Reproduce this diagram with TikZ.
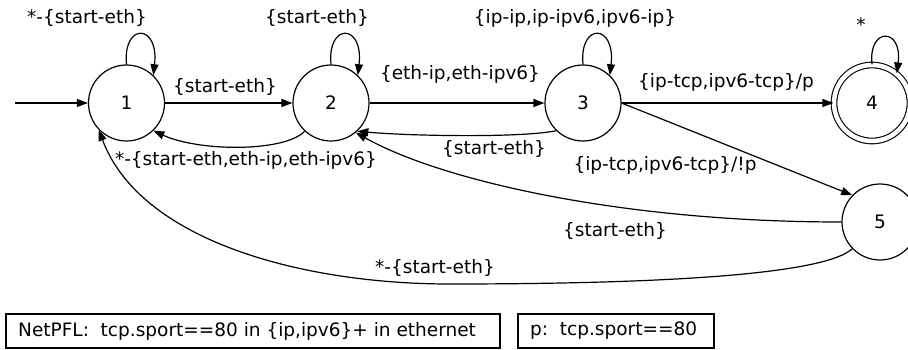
\documentclass[tikz,border=0pt]{standalone}
\usepackage{fontspec}
\setmainfont{DejaVu Sans}
\usetikzlibrary{arrows.meta}
\begin{document}
\begin{tikzpicture}[x=1pt,y=-1pt,
  every node/.style={font=\fontsize{18.5}{22}\selectfont},
  state/.style={draw,circle,line width=1.2pt,minimum size=76pt,inner sep=0pt},
  final/.style={state,double,double distance=4.5pt,line width=1.1pt},
  edge/.style={line width=1.2pt,-{Triangle[length=11pt,width=8pt]}},
  lab/.style={inner sep=0pt},
  infobox/.style={draw,line width=1.8pt,minimum height=34pt,inner sep=0pt,anchor=north west}]
\useasboundingbox (0,0) rectangle (908,350);
\node[state] (n1) at (126.5,103) {1};
\node[state] (n2) at (331,103) {2};
\node[state] (n3) at (583,103) {3};
\node[final] (n4) at (872,103) {4};
\node[state] (n5) at (880,222) {5};
\coordinate (start) at (15,103);
\draw[edge] (start) -- (n1);
% loops
\draw[edge] (n1.90) .. controls +(-4,-42) and +(6,-52) .. (n1.46);
\draw[edge] (n2.90) .. controls +(-4,-42) and +(6,-52) .. (n2.46);
\draw[edge] (n3.90) .. controls +(-4,-42) and +(6,-52) .. (n3.46);
\draw[edge] (n4.90) .. controls +(-4,-38) and +(6,-46) .. (n4.50);
\node[lab] at (87,18) {*-\{start-eth\}};
\node[lab] at (317,18) {\{start-eth\}};
\node[lab] at (575,18) {\{ip-ip,ip-ipv6,ipv6-ip\}};
\node[lab] at (861,25) {*};
% straight edges
\draw[edge] (n1) -- (n2);
\node[lab] at (225,87) {\{start-eth\}};
\draw[edge] (n2) -- (n3);
\node[lab] at (460,74) {\{eth-ip,eth-ipv6\}};
\draw[edge] (n3) -- (n4);
\node[lab] at (726,82) {\{ip-tcp,ipv6-tcp\}/p};
\draw[edge] (n3.0) -- (n5.136);
\node[lab] at (665,165) {\{ip-tcp,ipv6-tcp\}/!p};
% back edges
\draw[edge] (n2.-133) .. controls (285,152) and (200,152) .. (n1.-46);
\node[lab] at (246,160) {*-\{start-eth,eth-ip,eth-ipv6\}};
\draw[edge] (n3.-134) .. controls (520,138) and (410,136) .. (n2.-47);
\node[lab] at (494,149) {\{start-eth\}};
\draw[edge] (n5.180) .. controls (620,222) and (440,180) .. (n2.-50);
\node[lab] at (615,231) {\{start-eth\}};
\draw[edge] (n5.-136) .. controls (820,278) and (620,284) .. (450,284)
  .. controls (300,284) and (140,240) .. (n1.-136);
\node[lab] at (435,268) {*-\{start-eth\}};
% info boxes
\node[infobox,minimum width=494pt] (b1) at (5,313) {};
\node[anchor=west,inner sep=0pt] at ([xshift=13pt]b1.west) {NetPFL:\ \ tcp.sport==80 in \{ip,ipv6\}+ in ethernet};
\node[infobox,minimum width=196pt] (b2) at (517,313) {};
\node[anchor=west,inner sep=0pt] at ([xshift=13pt]b2.west) {p:\ \ tcp.sport==80};
\end{tikzpicture}
\end{document}
